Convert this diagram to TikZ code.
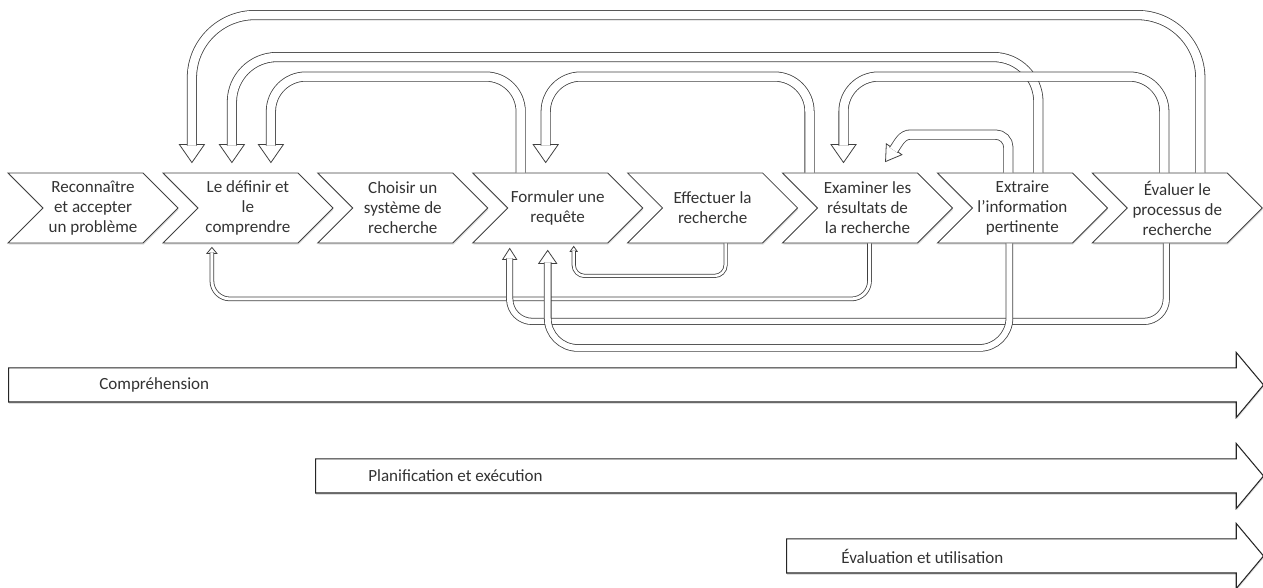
\documentclass[tikz,border=0pt]{standalone}
\usepackage{fontspec}
\setmainfont{Carlito}
\usetikzlibrary{positioning,shapes.symbols,shapes.arrows,shadows}

\tikzset{
  chev/.style={signal, signal from=west, signal to=east, signal pointer angle=90,
    draw=black!75, line width=0.5pt, fill=white, text=black!80, align=center,
    minimum width=3.4cm, minimum height=1.4cm, inner sep=1pt,
    drop shadow={opacity=0.25, shadow xshift=0.3pt, shadow yshift=-1pt}},
  band/.style={single arrow, single arrow tip angle=100, single arrow head extend=0.31cm,
    minimum width=1.28cm, inner xsep=0pt, inner ysep=0.33cm, draw=black!85, line width=0.6pt, fill=white,
    drop shadow={opacity=0.25, shadow xshift=0.3pt, shadow yshift=-1pt}},
  phase/.style={anchor=west, inner sep=0pt, text=black!80},
  pipe/.style={draw=black!75, line width=0.45pt, double=white, double distance=#1},
  pipe/.default=0.17cm,
  hd/.style={draw=black!75, line width=0.45pt, fill=white, line join=miter},
}

\begin{document}
\begin{tikzpicture}[node distance=3.098cm, font=\fontsize{9.7}{11.4}\selectfont]
  \useasboundingbox (0,0) rectangle (25.26,11.76);

  % the eight steps
  \node[chev]               (c1) at (1.86,7.60) {Reconnaître\\et accepter\\un problème};
  \node[chev] [right of=c1] (c2) {Le définir et\\le\\comprendre};
  \node[chev] [right of=c2] (c3) {Choisir un\\système de\\recherche};
  \node[chev] [right of=c3] (c4) {Formuler une\\requête};
  \node[chev] [right of=c4] (c5) {Effectuer la\\recherche};
  \node[chev] [right of=c5] (c6) {Examiner les\\résultats de\\la recherche};
  \node[chev] [right of=c6] (c7) {Extraire\\l’information\\pertinente};
  \node[chev] [right of=c7] (c8) {Évaluer le\\processus de\\recherche};

  % the three phases
  \node[band, minimum height=25.1cm, anchor=tail]  (comp) at (0.16,4.06) {};
  \node[band, minimum height=18.96cm, anchor=tail] (plan) at (6.30,2.24) {};
  \node[band, minimum height=9.54cm, anchor=tail]  (eval) at (15.72,0.64) {};
  \node[phase] (tcomp) at ([xshift=1.82cm]comp.tail) {Compréhension};
  \node[phase] (tplan) at ([xshift=1.06cm]plan.tail) {Planification et exécution};
  \node[phase] (teval) at ([xshift=1.10cm]eval.tail) {Évaluation et utilisation};

  % arrow tips
  \coordinate (t1) at ([xshift=-1.12cm,yshift=0.2cm]c2.north);
  \coordinate (t2) at ([xshift=-0.32cm,yshift=0.2cm]c2.north);
  \coordinate (t3) at ([xshift=0.46cm,yshift=0.2cm]c2.north);
  \coordinate (t4) at ([xshift=-0.24cm,yshift=0.2cm]c4.north);
  \coordinate (t5) at ([xshift=-0.48cm,yshift=0.2cm]c6.north);
  \coordinate (t6) at ([xshift=0.36cm,yshift=0.22cm]c6.north);
  \coordinate (t7) at ([xshift=-0.72cm,yshift=-0.08cm]c2.south);
  \coordinate (t8) at ([xshift=0.32cm,yshift=-0.06cm]c4.south);
  \coordinate (t9) at ([xshift=-0.96cm,yshift=-0.1cm]c4.south);
  \coordinate (t10) at ([xshift=-0.2cm,yshift=-0.14cm]c4.south);

  % loops above
  \draw[hd] (t1) -- ++(-0.25,0.36) -- ++(0.5,0) -- cycle;
  \draw[hd] (t2) -- ++(-0.25,0.36) -- ++(0.5,0) -- cycle;
  \draw[hd] (t3) -- ++(-0.25,0.36) -- ++(0.5,0) -- cycle;
  \draw[hd] (t4) -- ++(-0.25,0.36) -- ++(0.5,0) -- cycle;
  \draw[hd] (t5) -- ++(-0.25,0.36) -- ++(0.5,0) -- cycle;
  \draw[hd, rotate around={-35:(t6)}] (t6) -- ++(-0.19,0.3) -- ++(0.38,0) -- cycle;

  \draw[pipe, rounded corners=1.26cm] ([xshift=0.46cm]c8.north) -- ++(0,3.15) -| ([yshift=0.34cm]t1);
  \draw[pipe, rounded corners=0.9cm] ([xshift=0.32cm]c7.north) -- ++(0,2.31) -| ([yshift=0.34cm]t2);
  \draw[pipe, rounded corners=0.7cm] ([xshift=-0.74cm]c4.north) -- ++(0,1.92) -| ([yshift=0.34cm]t3);
  \draw[pipe, rounded corners=0.7cm] ([xshift=-1.16cm]c6.north) -- ++(0,1.92) -| ([yshift=0.34cm]t4);
  \draw[pipe, rounded corners=0.7cm] ([xshift=-0.26cm]c8.north) -- ++(0,1.92) -| ([yshift=0.34cm]t5);
  \draw[pipe] ([xshift=-0.28cm]c7.north) -- ++(0,0.5) arc[start angle=0, end angle=90, radius=0.26cm]
    -- ++(-1.69,0) to[out=180,in=55] ([shift={(0.16,0.23)}]t6);

  % loops below
  \draw[hd] (t7) -- ++(-0.1,-0.12) -- ++(0.2,0) -- cycle;
  \draw[hd] (t8) -- ++(-0.07,-0.1) -- ++(0.14,0) -- cycle;
  \draw[hd] (t9) -- ++(-0.14,-0.22) -- ++(0.28,0) -- cycle;
  \draw[hd] (t10) -- ++(-0.18,-0.26) -- ++(0.36,0) -- cycle;

  \draw[pipe=0.06cm, rounded corners=0.36cm] ([xshift=0.04cm]c6.south) -- ++(0,-1.11) -| ([yshift=-0.1cm]t7);
  \draw[pipe=0.05cm, rounded corners=0.22cm] ([xshift=0.26cm]c5.south) -- ++(0,-0.65) -| ([yshift=-0.085cm]t8);
  \draw[pipe=0.11cm, rounded corners=0.45cm] ([xshift=-0.22cm]c8.south) -- ++(0,-1.56) -| ([yshift=-0.2cm]t9);
  \draw[pipe=0.12cm, rounded corners=0.6cm] ([xshift=-0.26cm]c7.south) -- ++(0,-2.09) -| ([yshift=-0.24cm]t10);
\end{tikzpicture}
\end{document}
